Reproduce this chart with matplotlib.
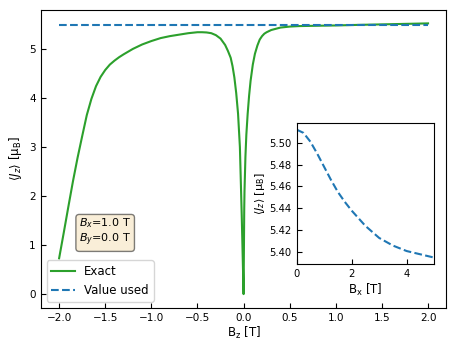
import numpy as np
import matplotlib
matplotlib.use('Agg')
import matplotlib.pyplot as plt

# main panel: <J_z> vs B_z at Bx=1.0 T, By=0.0 T
bz = [-2.0, -1.95, -1.9, -1.85, -1.8, -1.75, -1.7, -1.65, -1.6, -1.55, -1.5,
      -1.45, -1.4, -1.35, -1.3, -1.2, -1.1, -1.0, -0.9, -0.8, -0.7, -0.6, -0.5,
      -0.45, -0.4, -0.35, -0.3, -0.25, -0.2, -0.17, -0.14, -0.12, -0.1, -0.08,
      -0.06, -0.04, -0.02, -0.01, 0.0,
      0.007, 0.01, 0.02, 0.03, 0.044, 0.06, 0.076, 0.1, 0.123, 0.15, 0.175, 0.2,
      0.225, 0.25, 0.3, 0.4, 0.5, 0.6, 0.8, 1.0, 1.25, 1.5, 1.75, 2.0]
jz_exact = [0.73, 1.25, 1.78, 2.3, 2.78, 3.22, 3.65, 3.98, 4.24, 4.43, 4.57,
            4.68, 4.76, 4.83, 4.89, 5.00, 5.09, 5.16, 5.22, 5.26, 5.29, 5.32, 5.34,
            5.34, 5.335, 5.32, 5.28, 5.21, 5.08, 4.96, 4.82, 4.65, 4.42, 4.1,
            3.68, 3.0, 1.6, 0.8, 0.0,
            1.73, 2.1, 2.8, 3.25, 3.67, 4.05, 4.35, 4.68, 4.90, 5.07, 5.19, 5.26,
            5.31, 5.34, 5.385, 5.435, 5.455, 5.465, 5.472, 5.478, 5.49, 5.50, 5.51, 5.52]
bz_used = [-2.0, 2.0]
jz_used = [5.48, 5.48]

# inset: value used vs B_x
bx = [0, 0.25, 0.5, 0.75, 1.0, 1.25, 1.5, 1.75, 2.0, 2.5, 3.0, 3.5, 4.0, 4.5, 5.0]
jz_bx = [5.512, 5.509, 5.501, 5.490, 5.478, 5.466, 5.455, 5.446, 5.438,
         5.424, 5.413, 5.406, 5.401, 5.398, 5.395]

fig = plt.figure(figsize=(4.57, 3.52), dpi=100)
ax = fig.add_axes([0.089, 0.126, 0.888, 0.846])

ax.plot(bz, jz_exact, color='C2', lw=1.5, label='Exact')
ax.plot(bz_used, jz_used, color='C0', ls='--', lw=1.5, label='Value used')
ax.set_xlabel(r'$\mathrm{B_z}$ [T]', fontsize=8.5, labelpad=2)
ax.set_ylabel(r'$\langle J_z \rangle$ [$\mathrm{\mu_B}$]', fontsize=8.5, labelpad=4)
ax.tick_params(direction='in', labelsize=7.5, length=3.5)
ax.set_xticks([-2.0, -1.5, -1.0, -0.5, 0.0, 0.5, 1.0, 1.5, 2.0])
ax.legend(loc='lower left', fontsize=8.5)

ax.text(0.095, 0.2, r'$B_x$=1.0 T' + '\n' + r'$B_y$=0.0 T', transform=ax.transAxes,
        fontsize=8, va='bottom', ha='left',
        bbox=dict(boxstyle='round', facecolor='wheat', alpha=0.5))

ins = fig.add_axes([0.649, 0.25, 0.301, 0.40])
ins.plot(bx, jz_bx, color='C0', ls='--', lw=1.5)
ins.set_xlim(0, 5)
ins.set_xticks([0, 2, 4])
ins.set_yticks([5.40, 5.42, 5.44, 5.46, 5.48, 5.50])
ins.set_xlabel(r'$\mathrm{B_x}$ [T]', fontsize=8.5, labelpad=2)
ins.set_ylabel(r'$\langle J_z \rangle$ [$\mathrm{\mu_B}$]', fontsize=8, labelpad=2)
ins.tick_params(direction='in', labelsize=7.2, length=3.5)

fig.savefig('out.png', dpi=100)
